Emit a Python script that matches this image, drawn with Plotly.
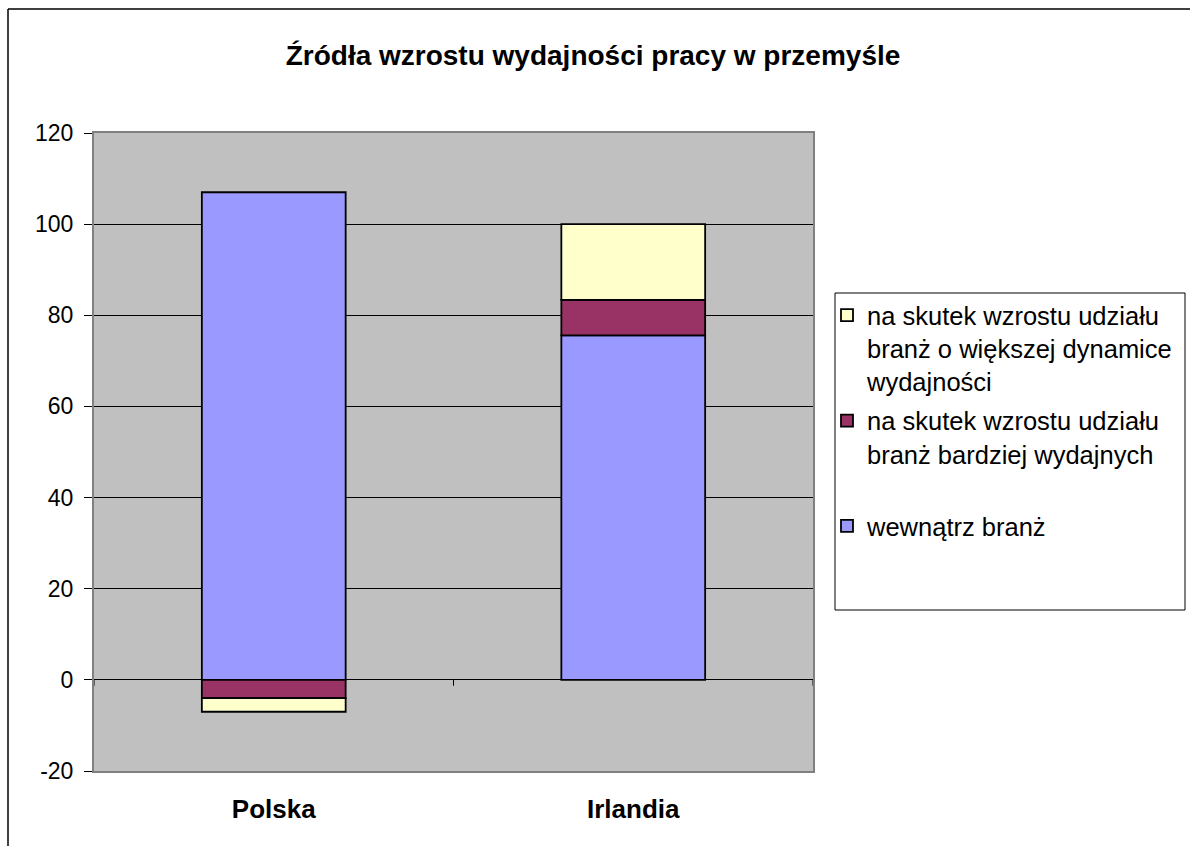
import plotly.graph_objects as go

categories = ["Polska", "Irlandia"]
series_names = [
    "wewnątrz branż",
    "na skutek wzrostu udziału<br>branż bardziej wydajnych<br> ",
    "na skutek wzrostu udziału<br>branż o większej dynamice<br>wydajności",
]
wewnatrz = [107, 75.6]
bardziej_wydajnych = [-4, 7.8]
wieksza_dynamika = [-3, 16.6]
colors = ["#9999FF", "#993366", "#FFFFCC"]
legend_ranks = [3, 2, 1]
y_ticks = [-20, 0, 20, 40, 60, 80, 100, 120]
y_tick_labels = ["-20", "0", "20", "40", "60", "80", "100", "120"]

W, H = 1190, 846
L, R, T, B = 94, 813, 133, 771
FONT = "Liberation Sans, Arial, sans-serif"

def px_x(x):
    return (x - L) / (R - L)

def px_y(y):
    return (B - y) / (B - T)

fig = go.Figure()
for name, vals, col, rk in zip(series_names, [wewnatrz, bardziej_wydajnych, wieksza_dynamika],
                               colors, legend_ranks):
    fig.add_trace(go.Bar(
        x=categories, y=vals, name=name, legendgroup=name, legendrank=rk,
        marker=dict(color=col, line=dict(color="black", width=1.8)),
        width=0.4,
    ))

shapes = []
# outer chart frame (top and left)
shapes.append(dict(type="line", xref="paper", yref="paper", x0=px_x(8), x1=px_x(1195),
                   y0=px_y(9), y1=px_y(9), line=dict(color="black", width=1.5)))
shapes.append(dict(type="line", xref="paper", yref="paper", x0=px_x(8), x1=px_x(8),
                   y0=px_y(9), y1=px_y(850), line=dict(color="black", width=1.5)))
# legend box
shapes.append(dict(type="rect", xref="paper", yref="paper", x0=px_x(835), x1=px_x(1185),
                   y0=px_y(610), y1=px_y(293), line=dict(color="black", width=1),
                   fillcolor="white", layer="below"))
# category boundary ticks on zero axis
for xb in [-0.5, 0.5, 1.5]:
    shapes.append(dict(type="line", xref="x", yref="y", x0=xb, x1=xb, y0=0, y1=-1.3,
                       line=dict(color="black", width=1)))

fig.update_layout(
    width=W, height=H,
    margin=dict(l=L, r=W - R, t=T, b=H - B),
    paper_bgcolor="white",
    plot_bgcolor="#C0C0C0",
    barmode="relative",
    font=dict(family=FONT, color="black", size=23),
    title=dict(text="<b>Źródła wzrostu wydajności pracy w przemyśle</b>",
               x=px_x(593), xanchor="center", xref="paper",
               y=1 - 55 / H, yanchor="middle",
               font=dict(size=28, family=FONT)),
    xaxis=dict(showgrid=False, showline=True, linecolor="#808080", linewidth=2, mirror=True,
               ticks="", tickfont=dict(size=26, family=FONT),
               ticklabelstandoff=14, tickprefix="<b>", ticksuffix="</b>",
               range=[-0.5, 1.5]),
    yaxis=dict(range=[-20, 120], tickvals=y_ticks, ticktext=y_tick_labels,
               showgrid=True, gridcolor="black", gridwidth=1,
               zeroline=True, zerolinecolor="black", zerolinewidth=1,
               showline=True, linecolor="#808080", linewidth=2, mirror=True,
               ticks="outside", ticklen=8, tickcolor="black", tickwidth=1,
               tickfont=dict(size=23), ticklabelstandoff=6),
    legend=dict(x=px_x(827), xanchor="left", y=px_y(292), yanchor="top",
                traceorder="grouped", tracegroupgap=3, valign="top",
                bgcolor="rgba(0,0,0,0)", borderwidth=0,
                font=dict(size=25.5)),
    shapes=shapes,
    showlegend=True,
)

fig.write_html("out.html", config={"displayModeBar": False},
               post_script="document.body.style.margin='0';")
